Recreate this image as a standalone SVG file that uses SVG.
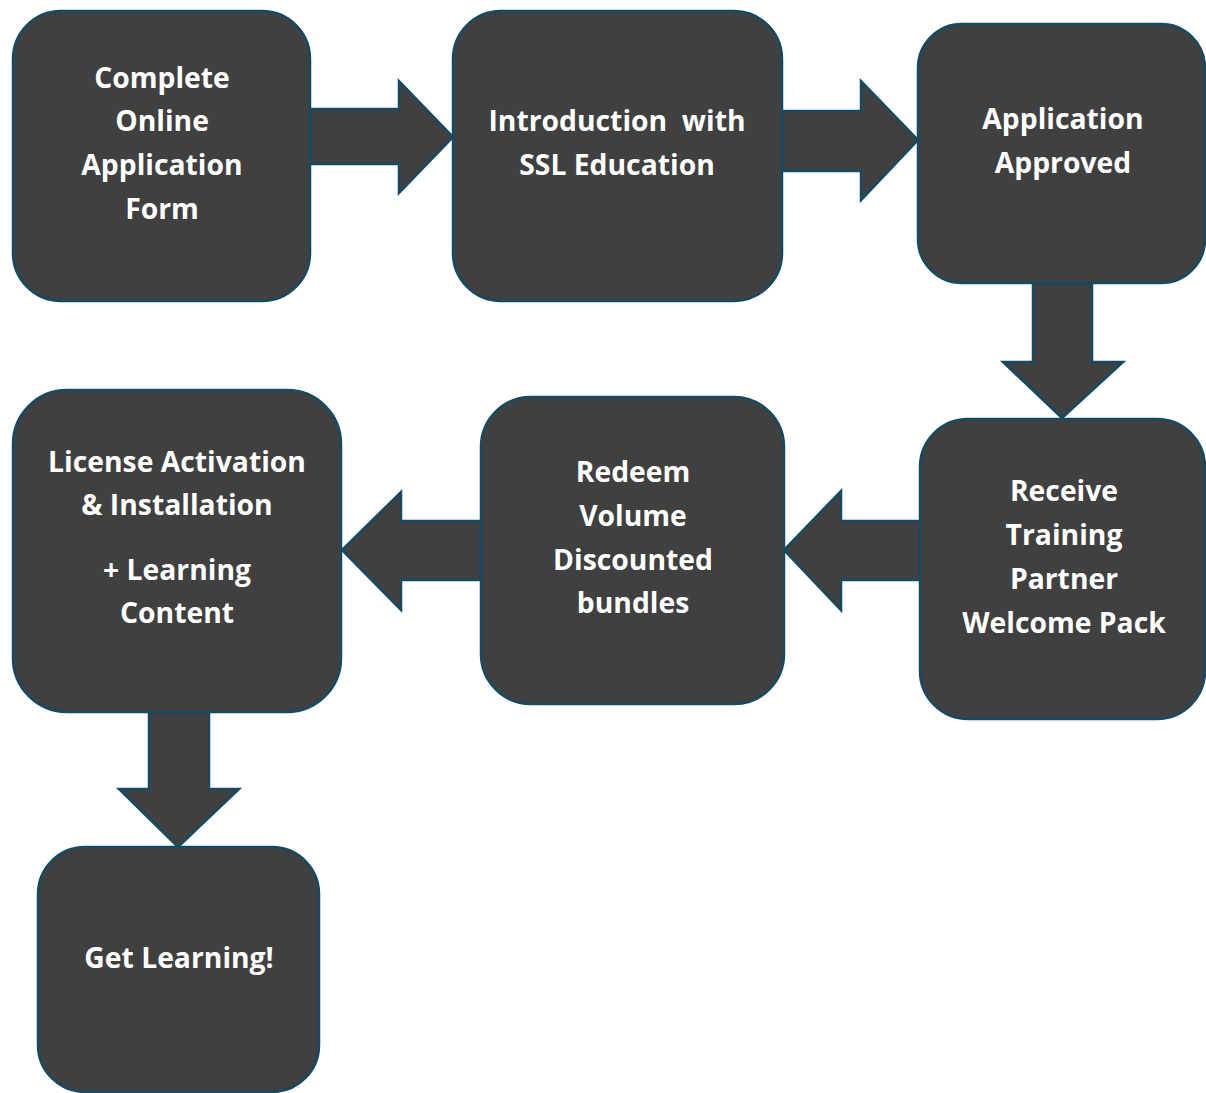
<svg xmlns="http://www.w3.org/2000/svg" width="1206" height="1093" viewBox="0 0 1206 1093">
<style>
.box{fill:#404040;stroke:#154a63;stroke-width:2.5}
.arr{fill:#404040;stroke:#154a63;stroke-width:2.5;stroke-linejoin:miter}
text{font-family:"Open Sans","Liberation Sans",sans-serif;font-weight:700;font-size:28.3px;fill:#ffffff;text-anchor:middle}
</style>
<rect width="1206" height="1093" fill="#ffffff"/>
<g id="connectors">
<polygon class="arr" points="310,109 399,109 399,81 453,137 399,193 399,164 310,164"/>
<polygon class="arr" points="782,111 861,111 861,81 918,140 861,200 861,171 782,171"/>
<polygon class="arr" points="1033,283 1033,362 1003,362 1062,418 1123,362 1092,362 1092,283"/>
<polygon class="arr" points="920,521 841,521 841,491 784,550 841,610 841,580 920,580"/>
<polygon class="arr" points="481,521 401,521 401,492 342,550 401,610 401,580 481,580"/>
<polygon class="arr" points="149,712 149,789 119,789 178,847 239,789 209,789 209,712"/>
</g>
<g id="n1"><rect class="box" x="13" y="11" width="297" height="290" rx="48"/>
<text x="162" y="88">Complete</text><text x="162" y="131">Online</text><text x="162" y="175">Application</text><text x="162" y="219">Form</text></g>
<g id="n2"><rect class="box" x="453" y="11" width="329" height="290" rx="48"/>
<text x="617" y="131" xml:space="preserve">Introduction  with</text><text x="617" y="175">SSL Education</text></g>
<g id="n3"><rect class="box" x="918" y="24" width="287" height="259" rx="44"/>
<text x="1063" y="129">Application</text><text x="1063" y="173">Approved</text></g>
<g id="n4"><rect class="box" x="920" y="419" width="285" height="300" rx="48"/>
<text x="1064" y="501">Receive</text><text x="1064" y="545">Training</text><text x="1064" y="589">Partner</text><text x="1064" y="633">Welcome Pack</text></g>
<g id="n5"><rect class="box" x="481" y="397" width="303" height="307" rx="50"/>
<text x="633" y="482">Redeem</text><text x="633" y="526">Volume</text><text x="633" y="570">Discounted</text><text x="633" y="613">bundles</text></g>
<g id="n6"><rect class="box" x="13" y="390" width="328" height="322" rx="54"/>
<text x="177" y="472">License Activation</text><text x="177" y="515">&amp; Installation</text><text x="177" y="580">+ Learning</text><text x="177" y="623">Content</text></g>
<g id="n7"><rect class="box" x="38" y="847" width="281" height="245" rx="47"/>
<text x="179" y="968">Get Learning!</text></g>
</svg>
